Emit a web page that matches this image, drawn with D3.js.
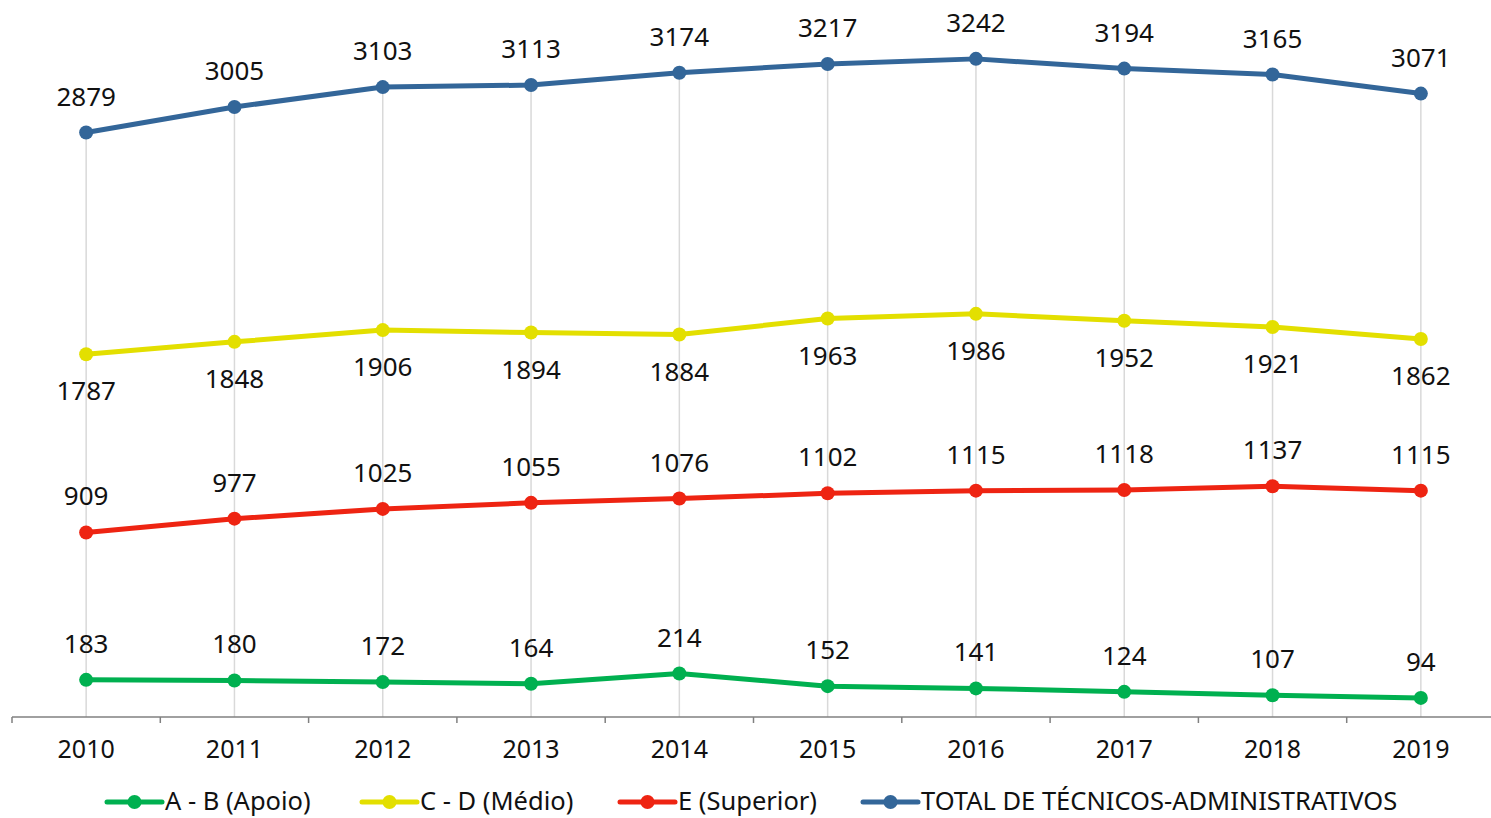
<!DOCTYPE html>
<html>
<head>
<meta charset="utf-8">
<script src="https://cdn.jsdelivr.net/npm/d3@7"></script>
<style>
  body { margin: 0; background: #fff; }
  svg text { font-family: "Noto Sans", "Open Sans", sans-serif; fill: #111; }
</style>
</head>
<body>
<svg id="chart" width="1491" height="818"></svg>
<script>
// data
var years = ["2010", "2011", "2012", "2013", "2014", "2015", "2016", "2017", "2018", "2019"];
var apoio = [183, 180, 172, 164, 214, 152, 141, 124, 107, 94];
var medio = [1787, 1848, 1906, 1894, 1884, 1963, 1986, 1952, 1921, 1862];
var superior = [909, 977, 1025, 1055, 1076, 1102, 1115, 1118, 1137, 1115];
var total = [2879, 3005, 3103, 3113, 3174, 3217, 3242, 3194, 3165, 3071];
var seriesNames = ["A - B (Apoio)", "C - D (Médio)", "E (Superior)", "TOTAL DE TÉCNICOS-ADMINISTRATIVOS"];

var series = [
    { name: seriesNames[0], values: apoio, color: "#00B050", labelPos: "above" },
    { name: seriesNames[1], values: medio, color: "#E3DF00", labelPos: "below" },
    { name: seriesNames[2], values: superior, color: "#EE2412", labelPos: "above" },
    { name: seriesNames[3], values: total, color: "#336699", labelPos: "above" }
];

var svg = d3.select("#chart");

var x = d3.scaleBand()
    .domain(years)
    .range([12, 1495]);

var y = d3.scaleLinear()
    .domain([0, 3500])
    .range([717, 6.5]);

function cx(d, i) { return x(years[i]) + x.bandwidth() / 2; }

//Drop lines from the highest point to the axis
svg.append("g")
    .selectAll("line")
    .data(years)
    .enter().append("line")
    .attr("x1", function (d, i) { return cx(d, i); })
    .attr("x2", function (d, i) { return cx(d, i); })
    .attr("y1", function (d, i) { return y(d3.max(series, function (s) { return s.values[i]; })); })
    .attr("y2", y(0))
    .attr("stroke", "#d9d9d9")
    .attr("stroke-width", 1.5);

//X axis
var xAxis = svg.append("g")
    .attr("transform", "translate(0," + y(0) + ")");

xAxis.append("line")
    .attr("x1", 12).attr("x2", 1491)
    .attr("stroke", "#808080").attr("stroke-width", 1.5);

xAxis.selectAll(".tick")
    .data(years)
    .enter().append("line")
    .attr("x1", function (d) { return x(d); })
    .attr("x2", function (d) { return x(d); })
    .attr("y1", 0).attr("y2", 6)
    .attr("stroke", "#808080").attr("stroke-width", 1.5);

xAxis.selectAll("text")
    .data(years)
    .enter().append("text")
    .attr("x", function (d, i) { return cx(d, i); })
    .attr("y", 41)
    .attr("text-anchor", "middle")
    .style("font-size", "25px")
    .text(function (d) { return d; });

//Lines, markers and labels
var line = d3.line()
    .x(function (d, i) { return cx(d, i); })
    .y(function (d) { return y(d); });

series.forEach(function (s) {
    var g = svg.append("g");

    g.append("path")
        .attr("d", line(s.values))
        .attr("fill", "none")
        .attr("stroke", s.color)
        .attr("stroke-width", 5)
        .attr("stroke-linejoin", "round");

    g.selectAll("circle")
        .data(s.values)
        .enter().append("circle")
        .attr("cx", function (d, i) { return cx(d, i); })
        .attr("cy", function (d) { return y(d); })
        .attr("r", 7)
        .attr("fill", s.color);

    g.selectAll("text")
        .data(s.values)
        .enter().append("text")
        .attr("x", function (d, i) { return cx(d, i); })
        .attr("y", function (d) { return s.labelPos == "below" ? y(d) + 46 : y(d) - 27; })
        .attr("text-anchor", "middle")
        .style("font-size", "26px")
        .text(function (d) { return d; });
});

//Legend
var legendX = [107, 362, 620, 863];
var legend = svg.append("g")
    .attr("transform", "translate(0,802)");

series.forEach(function (s, i) {
    var item = legend.append("g")
        .attr("transform", "translate(" + legendX[i] + ",0)");

    item.append("line")
        .attr("x1", 0).attr("x2", 55)
        .attr("stroke", s.color)
        .attr("stroke-width", 5)
        .attr("stroke-linecap", "round");

    item.append("circle")
        .attr("cx", 27.5).attr("r", 7)
        .attr("fill", s.color);

    item.append("text")
        .attr("x", 58)
        .attr("y", 8)
        .style("font-size", "25.5px")
        .text(s.name);
});
</script>
</body>
</html>
